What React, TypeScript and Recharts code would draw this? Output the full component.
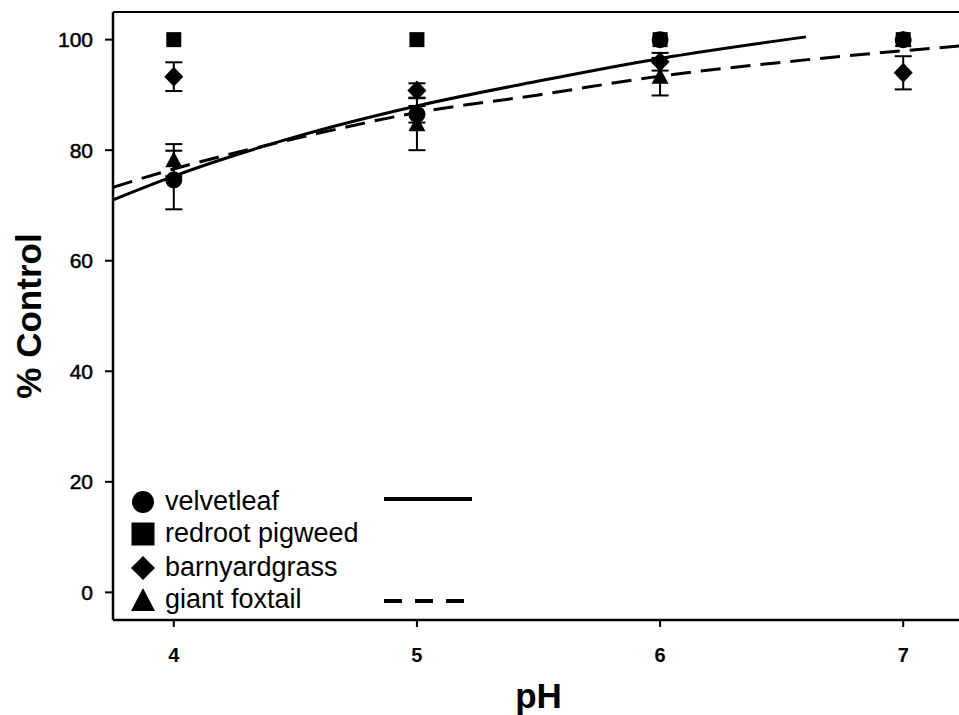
import React from 'react';
import {
  ComposedChart,
  Line,
  Scatter,
  ErrorBar,
  XAxis,
  YAxis,
  ReferenceLine,
  Legend,
  Label,
} from 'recharts';

// pH levels and the observed % control per weed species
const phLevels = [4, 5, 6, 7];
const velvetleaf = [74.6, 86.5, 100, 100];
const velvetleafErr = [5.3, 1.5, 0, 0];
const redrootPigweed = [100, 100, 100, 100];
const barnyardgrass = [93.3, 90.8, 96.0, 94.0];
const barnyardgrassErr = [2.6, 1.3, 1.6, 3.0];
const giantFoxtail = [78.2, 84.7, 93.3, 100];
const giantFoxtailErr = [2.9, 4.7, 3.4, 0];

// fitted curves
const velvetFitPh = [3.75, 4, 4.5, 5, 5.5, 6, 6.6];
const velvetFit = [71.0, 75.3, 82.4, 88.0, 92.5, 96.6, 100.5];
const foxtailFitPh = [3.75, 4, 4.5, 5, 5.5, 6, 6.5, 7, 7.25];
const foxtailFit = [73.3, 76.6, 82.1, 86.8, 90.0, 93.4, 95.9, 98.0, 98.9];

const xTicks = [4, 5, 6, 7];
const yTicks = [0, 20, 40, 60, 80, 100];
const seriesNames = ['velvetleaf', 'redroot pigweed', 'barnyardgrass', 'giant foxtail'];

const FONT = '"Liberation Sans", Arial, Helvetica, sans-serif';

const toPoints = (xs: number[], ys: number[], errs?: number[]) =>
  xs.map((x, i) => ({ x, y: ys[i], err: errs ? errs[i] : 0 }));

const velvetData = toPoints(phLevels, velvetleaf, velvetleafErr);
const redrootData = toPoints(phLevels, redrootPigweed);
const barnyardData = toPoints(phLevels, barnyardgrass, barnyardgrassErr);
const foxtailData = toPoints(phLevels, giantFoxtail, giantFoxtailErr);
const velvetFitData = toPoints(velvetFitPh, velvetFit);
const foxtailFitData = toPoints(foxtailFitPh, foxtailFit);

const CircleDot = (p: any) => <circle cx={p.cx} cy={p.cy} r={8.5} fill="#000" />;
const SquareDot = (p: any) => (
  <rect x={p.cx - 7.5} y={p.cy - 7.5} width={15} height={15} fill="#000" />
);
const DiamondDot = (p: any) => (
  <polygon
    points={`${p.cx},${p.cy - 10} ${p.cx + 9.5},${p.cy} ${p.cx},${p.cy + 10} ${p.cx - 9.5},${p.cy}`}
    fill="#000"
  />
);
const TriangleDot = (p: any) => (
  <polygon
    points={`${p.cx},${p.cy - 9} ${p.cx + 8.5},${p.cy + 7} ${p.cx - 8.5},${p.cy + 7}`}
    fill="#000"
  />
);

const legendIcon = (i: number, cx: number, cy: number) => {
  if (i === 0) return <circle cx={cx} cy={cy} r={11} fill="#000" />;
  if (i === 1) return <rect x={cx - 11.5} y={cy - 11.5} width={23} height={23} fill="#000" />;
  if (i === 2)
    return (
      <polygon
        points={`${cx},${cy - 12} ${cx + 12},${cy} ${cx},${cy + 12} ${cx - 12},${cy}`}
        fill="#000"
      />
    );
  return (
    <polygon
      points={`${cx},${cy - 12} ${cx + 12},${cy + 11} ${cx - 12},${cy + 11}`}
      fill="#000"
    />
  );
};

const renderLegend = () => {
  const rows = [20, 52, 86, 118];
  return (
    <svg width={370} height={135} style={{ display: 'block', overflow: 'visible' }}>
      {seriesNames.map((name, i) => (
        <g key={name}>
          {legendIcon(i, 23, rows[i])}
          <text x={45} y={rows[i] + 8} fontSize={27} fontFamily={FONT} fill="#000">
            {name}
          </text>
        </g>
      ))}
      <line x1={264} x2={352} y1={17} y2={17} stroke="#000" strokeWidth={4} />
      <line
        x1={264}
        x2={350}
        y1={119}
        y2={119}
        stroke="#000"
        strokeWidth={4}
        strokeDasharray="18 13"
      />
    </svg>
  );
};

const XTick = (props: any) => (
  <text
    x={props.x}
    y={props.y + 21}
    textAnchor="middle"
    fontSize={20}
    fontWeight="bold"
    fontFamily={FONT}
    fill="#000"
  >
    {props.payload.value}
  </text>
);

const YTick = (props: any) => (
  <text
    x={props.x}
    y={props.y + 7.5}
    textAnchor="end"
    fontSize={21}
    fontFamily={FONT}
    fill="#000"
    stroke="#000"
    strokeWidth={0.5}
  >
    {props.payload.value}
  </text>
);

const XTitle = (props: any) => {
  const vb = props.viewBox;
  return (
    <text
      x={vb.x + vb.width / 2}
      y={vb.y + 88}
      textAnchor="middle"
      fontSize={35}
      fontWeight="bold"
      fontFamily={FONT}
      fill="#000"
    >
      pH
    </text>
  );
};

const YTitle = (props: any) => {
  const vb = props.viewBox;
  const x = vb.x + 28;
  const y = vb.y + vb.height / 2;
  return (
    <text
      x={x}
      y={y}
      transform={`rotate(-90 ${x} ${y})`}
      textAnchor="middle"
      dominantBaseline="central"
      fontSize={35}
      fontWeight="bold"
      fontFamily={FONT}
      fill="#000"
    >
      % Control
    </text>
  );
};

export default function App() {
  return (
    <div
      style={{
        position: 'absolute',
        left: 0,
        top: 0,
        width: 959,
        height: 715,
        overflow: 'hidden',
        background: '#fff',
      }}
    >
      <ComposedChart
        width={980}
        height={715}
        margin={{ top: 12, right: 16, bottom: 0, left: 0 }}
      >
        <XAxis
          dataKey="x"
          type="number"
          domain={[3.75, 7.25]}
          ticks={xTicks}
          allowDataOverflow
          height={95}
          tickSize={7}
          tickMargin={14}
          tick={<XTick />}
          axisLine={{ stroke: '#000', strokeWidth: 2.5 }}
          tickLine={{ stroke: '#000', strokeWidth: 2 }}
        >
          <Label content={<XTitle />} />
        </XAxis>
        <YAxis
          type="number"
          domain={[-5, 105]}
          ticks={yTicks}
          allowDataOverflow
          width={113}
          tickSize={8}
          tickMargin={12}
          tick={<YTick />}
          axisLine={{ stroke: '#000', strokeWidth: 2.5 }}
          tickLine={{ stroke: '#000', strokeWidth: 2 }}
        >
          <Label content={<YTitle />} />
        </YAxis>
        <ReferenceLine y={105} stroke="#000" strokeWidth={2} />
        <Line
          data={velvetFitData}
          dataKey="y"
          type="monotone"
          stroke="#000"
          strokeWidth={3}
          dot={false}
          isAnimationActive={false}
        />
        <Line
          data={foxtailFitData}
          dataKey="y"
          type="monotone"
          stroke="#000"
          strokeWidth={3}
          strokeDasharray="20 10"
          dot={false}
          isAnimationActive={false}
        />
        <Scatter data={redrootData} dataKey="y" shape={SquareDot} isAnimationActive={false} />
        <Scatter data={foxtailData} dataKey="y" shape={TriangleDot} isAnimationActive={false}>
          <ErrorBar dataKey="err" direction="y" width={8.5} stroke="#000" strokeWidth={2} />
        </Scatter>
        <Scatter data={velvetData} dataKey="y" shape={CircleDot} isAnimationActive={false}>
          <ErrorBar dataKey="err" direction="y" width={8.5} stroke="#000" strokeWidth={2} />
        </Scatter>
        <Scatter data={barnyardData} dataKey="y" shape={DiamondDot} isAnimationActive={false}>
          <ErrorBar dataKey="err" direction="y" width={8.5} stroke="#000" strokeWidth={2} />
        </Scatter>
        <Legend
          content={renderLegend}
          layout="horizontal"
          verticalAlign="middle"
          align="center"
          wrapperStyle={{ left: 120, top: 482, width: 370, height: 135 }}
        />
      </ComposedChart>
    </div>
  );
}
